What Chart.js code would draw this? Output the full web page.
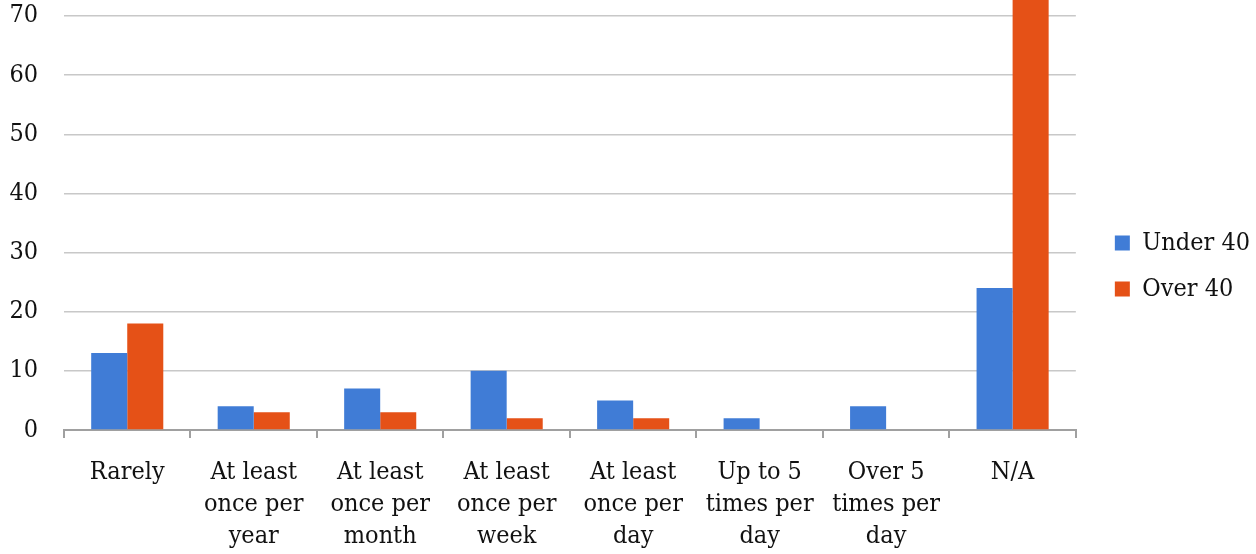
<!DOCTYPE html>
<html>
<head>
<meta charset="utf-8">
<script src="https://cdn.jsdelivr.net/npm/chart.js@4/dist/chart.umd.min.js"></script>
<style>
  body { margin: 0; background: #fff; }
  #wrap { width: 1256px; height: 554px; }
</style>
</head>
<body>
<div id="wrap"><canvas id="myChart" width="1256" height="554"></canvas></div>
<script>
// data
var categories = [
  'Rarely',
  ['At least', 'once per', 'year'],
  ['At least', 'once per', 'month'],
  ['At least', 'once per', 'week'],
  ['At least', 'once per', 'day'],
  ['Up to 5', 'times per', 'day'],
  ['Over 5', 'times per', 'day'],
  'N/A'
];
var under40 = [13, 4, 7, 10, 5, 2, 4, 24];
var over40 = [18, 3, 3, 2, 2, 0, 0, 76];
var yTicks = [0, 10, 20, 30, 40, 50, 60, 70];

Chart.defaults.font.family = '"DejaVu Serif Condensed", "DejaVu Serif", serif';
Chart.defaults.font.size = 25;
Chart.defaults.font.lineHeight = 1.28;
Chart.defaults.color = '#111';

// make the legend box wider and nudge its items right / up
const legendNudge = {
  id: 'legendNudge',
  beforeLayout: function (chart) {
    var lg = chart.legend;
    if (!lg || lg._nudged) return;
    lg._nudged = true;
    var origFit = lg.fit;
    lg.fit = function () {
      origFit.apply(this, arguments);
      this.width += 14;
    };
    var origDraw = lg.draw;
    lg.draw = function () {
      var ctx = this.ctx;
      ctx.save();
      ctx.translate(18, -11);
      origDraw.apply(this, arguments);
      ctx.restore();
    };
  }
};

new Chart(document.getElementById('myChart').getContext('2d'), {
  type: 'bar',
  data: {
    labels: categories,
    datasets: [
      {
        label: 'Under 40',
        data: under40,
        backgroundColor: 'rgb(64, 124, 214)',
        barPercentage: 1,
        categoryPercentage: 0.57
      },
      {
        label: 'Over 40',
        data: over40,
        backgroundColor: 'rgb(229, 81, 23)',
        barPercentage: 1,
        categoryPercentage: 0.57
      }
    ]
  },
  options: {
    responsive: false,
    animation: false,
    layout: { padding: { left: 0, right: 0, top: 0, bottom: 0 } },
    plugins: {
      legend: {
        position: 'right',
        labels: { boxWidth: 15, boxHeight: 15, padding: 21 }
      },
      tooltip: { enabled: false }
    },
    scales: {
      x: {
        grid: { drawOnChartArea: false, drawTicks: true, tickLength: 8, color: '#a0a0a0', lineWidth: 2 },
        border: { color: '#a0a0a0', width: 2 },
        ticks: { maxRotation: 0, autoSkip: false, padding: 18 },
        afterFit: function (axis) {
          axis.height = 124;
        }
      },
      y: {
        min: 0,
        max: 72.7,
        afterBuildTicks: function (axis) {
          axis.ticks = yTicks.map(function (v) { return { value: v }; });
        },
        afterFit: function (axis) {
          axis.width = 64;
          axis.paddingTop = 0;
        },
        grid: { drawTicks: false, color: '#c8c8c8', lineWidth: 1.5 },
        border: { display: false },
        ticks: { padding: 26 }
      }
    }
  },
  plugins: [legendNudge]
});
</script>
</body>
</html>
